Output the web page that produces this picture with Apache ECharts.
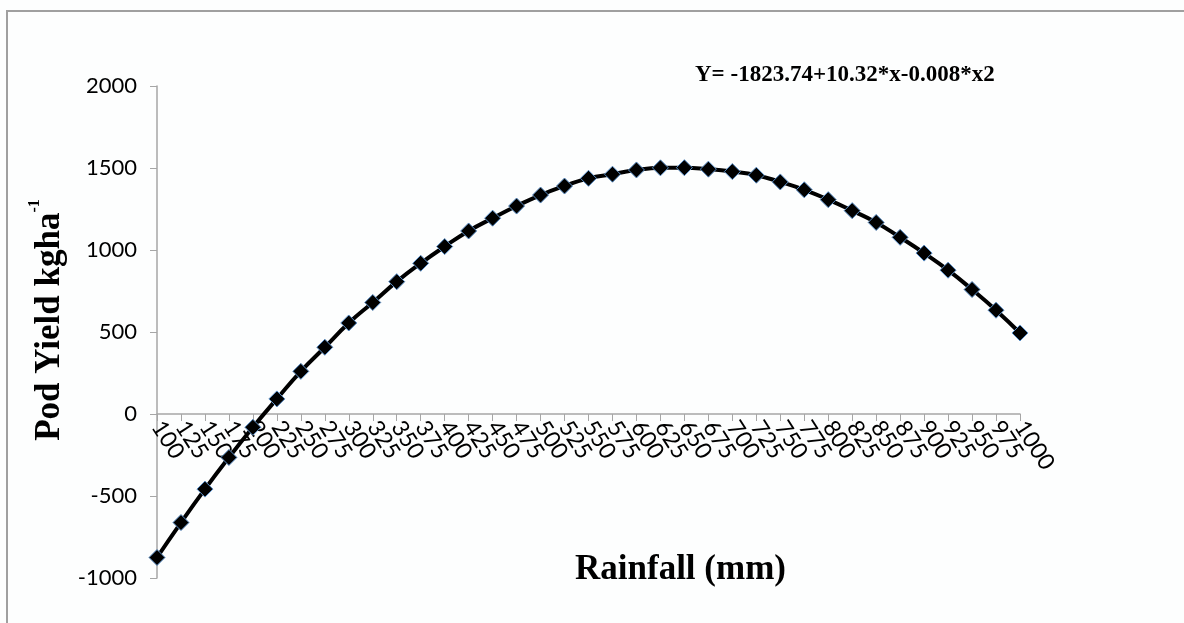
<!DOCTYPE html>
<html>
<head>
<meta charset="utf-8">
<script src="https://cdn.jsdelivr.net/npm/echarts@6/dist/echarts.min.js"></script>
<style>
html,body{margin:0;padding:0;background:#fdfefe;}
#chart{width:1184px;height:623px;}
</style>
</head>
<body>
<div id="chart"></div>
<script>
const rainfall = ['100','125','150','175','200','225','250','275','300','325','350','375','400','425','450','475','500','525','550','575','600','625','650','675','700','725','750','775','800','825','850','875','900','925','950','975','1000'];
const podYield = [-875,-662,-458,-265,-81,92,260,407,555,680,807,919,1021,1116,1194,1268,1335,1390,1437,1462,1488,1501,1502,1493,1478,1456,1415,1367,1307,1240,1168,1077,981,877,759,633,494];
const yTicks = { min: -1000, max: 2000, interval: 500 };
const equation = 'Y= -1823.74+10.32*x-0.008*x2';
const xTitle = 'Rainfall (mm)';
const yTitle = 'Pod Yield kgha';

const chart = echarts.init(document.getElementById('chart'), null, {renderer: 'canvas'});
chart.setOption({
  backgroundColor: '#fdfefe',
  animation: false,
  grid: { left: 157, right: 164, top: 86, bottom: 45, containLabel: false, outerBoundsMode: 'none' },
  graphic: [
    { type: 'rect', shape: { x: 7, y: 11, width: 1300, height: 800 },
      style: { fill: 'none', stroke: '#a0a0a0', lineWidth: 2 }, silent: true },
    { type: 'text', left: 695, top: 64,
      style: { text: equation, fontFamily: 'Liberation Serif', fontWeight: 'bold', fontSize: 23, fill: '#000' } }
  ],
  xAxis: {
    type: 'category',
    data: rainfall,
    boundaryGap: false,
    position: 'bottom',
    offset: -164,
    name: xTitle,
    nameLocation: 'middle',
    nameGap: 138,
    nameMoveOverlap: false,
    nameTextStyle: { fontFamily: 'Liberation Serif', fontWeight: 'bold', fontSize: 35, color: '#000', padding: [0, 0, 0, 184] },
    axisLine: { onZero: false, lineStyle: { color: '#a6a6a6', width: 1.5 } },
    axisTick: { show: true, interval: 0, length: 7, lineStyle: { color: '#a6a6a6' } },
    axisLabel: { interval: 0, rotate: -57, margin: 9, fontFamily: 'Lato', fontSize: 23, color: '#000', hideOverlap: false },
    splitLine: { show: false }
  },
  yAxis: {
    type: 'value',
    min: yTicks.min, max: yTicks.max, interval: yTicks.interval,
    name: '{m|' + yTitle + '}{s|-1}',
    nameLocation: 'middle',
    nameGap: 90,
    nameRotate: 90,
    nameMoveOverlap: false,
    nameTextStyle: {
      padding: [0, 0, 0, 24],
      rich: {
        m: { fontFamily: 'Liberation Serif', fontWeight: 'bold', fontSize: 35, color: '#000', verticalAlign: 'bottom', lineHeight: 40 },
        s: { fontFamily: 'Liberation Serif', fontWeight: 'bold', fontSize: 16, color: '#000', verticalAlign: 'top', lineHeight: 40, padding: [0,0,16,0] }
      }
    },
    axisLine: { show: true, lineStyle: { color: '#a6a6a6', width: 1.5 } },
    axisTick: { show: true, length: 7, lineStyle: { color: '#a6a6a6' } },
    axisLabel: { margin: 20, fontFamily: 'Lato', fontSize: 22, color: '#000', formatter: v => String(v) },
    splitLine: { show: false }
  },
  series: [{
    type: 'line',
    data: podYield,
    smooth: true,
    symbol: 'diamond',
    symbolSize: 16,
    lineStyle: { color: '#000', width: 4 },
    itemStyle: { color: '#000', borderColor: '#5b8fc7', borderWidth: 1 },
    z: 3
  }]
});
</script>
</body>
</html>
